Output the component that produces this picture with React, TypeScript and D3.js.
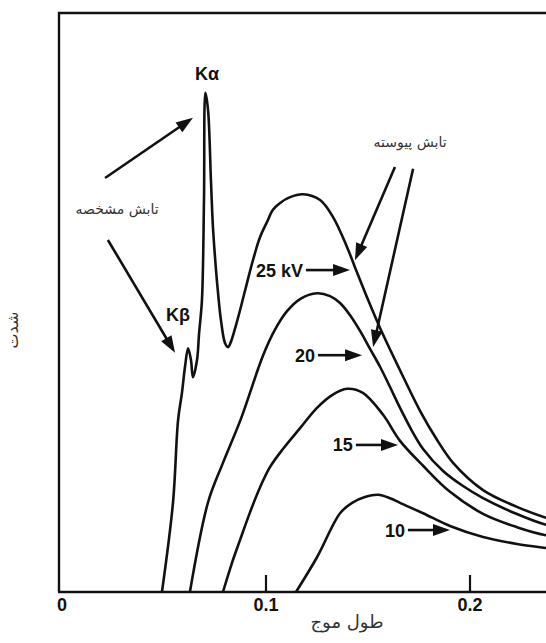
import React from 'react';
import * as d3 from 'd3';

const W = 546;
const H = 643;

// Wavelength (nm) and relative intensity readings for each tube voltage
const kv25Wavelength = [0.049, 0.0544, 0.0569, 0.0588, 0.0603, 0.0618, 0.0632, 0.0642, 0.0662, 0.0672, 0.0686, 0.0696, 0.0703, 0.0716, 0.073, 0.074, 0.0755, 0.0765, 0.0779, 0.0799, 0.0814, 0.0828, 0.0853, 0.0873, 0.0907, 0.0936, 0.0971, 0.1005, 0.1034, 0.1069, 0.1118, 0.1181, 0.1265, 0.1328, 0.1397, 0.1436, 0.1495, 0.1559, 0.1657, 0.1755, 0.1838, 0.1917, 0.2064, 0.223, 0.2373, 0.2441];
const kv25Intensity = [0, 15.4, 29.7, 34.4, 38.9, 42.1, 40.1, 37.1, 40.1, 44.7, 50.4, 67.7, 86.2, 83.2, 71.2, 63.0, 55.6, 51.6, 47.0, 43.0, 42.3, 43.2, 46.1, 48.7, 53.4, 57.3, 61.3, 63.9, 66.0, 67.2, 68.2, 68.7, 67.7, 64.8, 59.6, 56.1, 50.9, 45.6, 38.3, 31.3, 26.3, 22.3, 17.6, 14.7, 12.8, 12.1];

const kv20Wavelength = [0.0627, 0.0716, 0.0789, 0.0877, 0.0985, 0.1044, 0.1103, 0.1167, 0.125, 0.1314, 0.1363, 0.1412, 0.1461, 0.151, 0.1559, 0.1608, 0.1657, 0.1716, 0.177, 0.1868, 0.1966, 0.2064, 0.2221, 0.2373, 0.2441];
const kv20Intensity = [0, 15.5, 22.3, 29.9, 40.8, 45.3, 48.5, 50.6, 51.6, 51.1, 49.9, 47.8, 45.1, 42.0, 38.9, 35.4, 31.8, 27.8, 24.7, 20.9, 18.3, 16.2, 13.6, 11.6, 11.1];

const kv15Wavelength = [0.0789, 0.0833, 0.0873, 0.0922, 0.0971, 0.102, 0.1083, 0.1167, 0.125, 0.1324, 0.1397, 0.1475, 0.1574, 0.1657, 0.177, 0.1902, 0.2064, 0.223, 0.2373, 0.2441];
const kv15Intensity = [0, 5.0, 9.0, 13.8, 18.1, 21.6, 24.7, 28.3, 31.8, 34.0, 35.1, 34.4, 30.6, 26.1, 21.8, 17.3, 13.5, 11.2, 9.8, 9.5];

const kv10Wavelength = [0.1147, 0.125, 0.1363, 0.1422, 0.1485, 0.1549, 0.1608, 0.1657, 0.177, 0.1902, 0.2064, 0.223, 0.2373, 0.2441];
const kv10Intensity = [0, 6.0, 13.6, 15.4, 16.4, 16.8, 16.2, 15.4, 13.6, 11.4, 9.5, 8.3, 7.6, 7.3];

const xTickValues = [0, 0.1, 0.2];
const xTickLabels = ['0', '0.1', '0.2'];
const xAxisTitle = 'طول موج';
const yAxisTitle = 'شدت';
const characteristicLabel = 'تابش مشخصه';
const continuousLabel = 'تابش پیوسته';
const seriesLabels = ['25 kV', '20', '15', '10'];
// label anchor (wavelength at label end, intensity) and arrow end wavelength
const seriesLabelWavelength = [0.1181, 0.124, 0.1426, 0.1681];
const seriesLabelIntensity = [55.6, 40.9, 25.4, 10.7];
const seriesArrowEnd = [0.1412, 0.1471, 0.1647, 0.1902];

const series = [
  { w: kv25Wavelength, i: kv25Intensity },
  { w: kv20Wavelength, i: kv20Intensity },
  { w: kv15Wavelength, i: kv15Intensity },
  { w: kv10Wavelength, i: kv10Intensity },
];

const x = d3.scaleLinear().domain([0, 0.2]).range([62, 470]);
const y = d3.scaleLinear().domain([0, 100]).range([592, 13]);

const line = d3
  .line<[number, number]>()
  .x((d) => x(d[0]))
  .y((d) => y(d[1]))
  .curve(d3.curveCatmullRom.alpha(0.5));

const INK = '#111';

function Arrow({ x1, y1, x2, y2 }: { x1: number; y1: number; x2: number; y2: number }) {
  const dx = x2 - x1;
  const dy = y2 - y1;
  const len = Math.hypot(dx, dy);
  const ux = dx / len;
  const uy = dy / len;
  const hl = 17;
  const hw = 6;
  const bx = x2 - ux * hl;
  const by = y2 - uy * hl;
  const px = -uy;
  const py = ux;
  return (
    <g>
      <line x1={x1} y1={y1} x2={bx + ux * 2} y2={by + uy * 2} stroke={INK} strokeWidth={2.6} />
      <polygon
        points={`${x2},${y2} ${bx + px * hw},${by + py * hw} ${bx - px * hw},${by - py * hw}`}
        fill={INK}
      />
    </g>
  );
}

export default function App() {
  const bold = { fontFamily: 'Liberation Sans, Arial, sans-serif', fontWeight: 700, fill: INK } as const;
  const persian = { fontFamily: 'DejaVu Sans, sans-serif', fill: '#333' } as const;
  return (
    <svg
      width={W}
      height={H}
      viewBox={`0 0 ${W} ${H}`}
      style={{ position: 'absolute', left: 0, top: 0, background: '#fff', display: 'block' }}
    >
      <rect x={0} y={0} width={W} height={H} fill="#fff" />
      {/* frame */}
      <path
        d={`M${x(0) - 3},${y(0)} L${x(0) - 3},${y(100)} L${W + 5},${y(100)}`}
        fill="none"
        stroke={INK}
        strokeWidth={2.4}
      />
      <line x1={x(0) - 4} y1={y(0)} x2={W + 5} y2={y(0)} stroke={INK} strokeWidth={2.6} />
      {xTickValues.slice(1).map((v) => (
        <line key={v} x1={x(v)} x2={x(v)} y1={y(0)} y2={y(0) - 17} stroke={INK} strokeWidth={2.2} />
      ))}
      {xTickValues.map((v, k) => (
        <text key={v} x={x(v)} y={611} textAnchor="middle" fontSize={18} {...bold}>
          {xTickLabels[k]}
        </text>
      ))}
      <text x={347} y={628} textAnchor="middle" fontSize={18} direction="rtl" {...persian}>
        {xAxisTitle}
      </text>
      <text
        transform={`translate(18,330) rotate(-90)`}
        textAnchor="middle"
        fontSize={16}
        direction="rtl"
        {...persian}
      >
        {yAxisTitle}
      </text>

      {/* curves */}
      {series.map((s, k) => (
        <path
          key={k}
          d={line(s.w.map((w, j) => [w, s.i[j]] as [number, number])) || ''}
          fill="none"
          stroke={INK}
          strokeWidth={2.6}
          strokeLinejoin="round"
        />
      ))}

      {/* series labels */}
      {seriesLabels.map((lab, k) => (
        <g key={lab}>
          <text
            x={x(seriesLabelWavelength[k])}
            y={y(seriesLabelIntensity[k])}
            dy="0.36em"
            textAnchor="end"
            fontSize={18}
            {...bold}
          >
            {lab}
          </text>
          <Arrow
            x1={x(seriesLabelWavelength[k]) + 3}
            y1={y(seriesLabelIntensity[k])}
            x2={x(seriesArrowEnd[k])}
            y2={y(seriesLabelIntensity[k])}
          />
        </g>
      ))}

      {/* K lines */}
      <text x={x(0.0711)} y={y(89.6)} dy="0.36em" textAnchor="middle" fontSize={18} {...bold}>
        Kα
      </text>
      <text x={x(0.0569)} y={y(48.0)} dy="0.36em" textAnchor="middle" fontSize={18} {...bold}>
        Kβ
      </text>

      {/* characteristic radiation annotation */}
      <text x={x(0.027)} y={y(66.1)} dy="0.36em" textAnchor="middle" fontSize={14} direction="rtl" {...persian}>
        {characteristicLabel}
      </text>
      <Arrow x1={x(0.0211)} y1={y(71.5)} x2={x(0.0642)} y2={y(81.9)} />
      <Arrow x1={x(0.0225)} y1={y(60.8)} x2={x(0.0554)} y2={y(41.3)} />

      {/* continuous radiation annotation */}
      <text x={x(0.1706)} y={y(77.7)} dy="0.36em" textAnchor="middle" fontSize={14} direction="rtl" {...persian}>
        {continuousLabel}
      </text>
      <Arrow x1={x(0.1632)} y1={y(73.4)} x2={x(0.1436)} y2={y(57.3)} />
      <Arrow x1={x(0.1721)} y1={y(73.1)} x2={x(0.1525)} y2={y(42.3)} />
    </svg>
  );
}
